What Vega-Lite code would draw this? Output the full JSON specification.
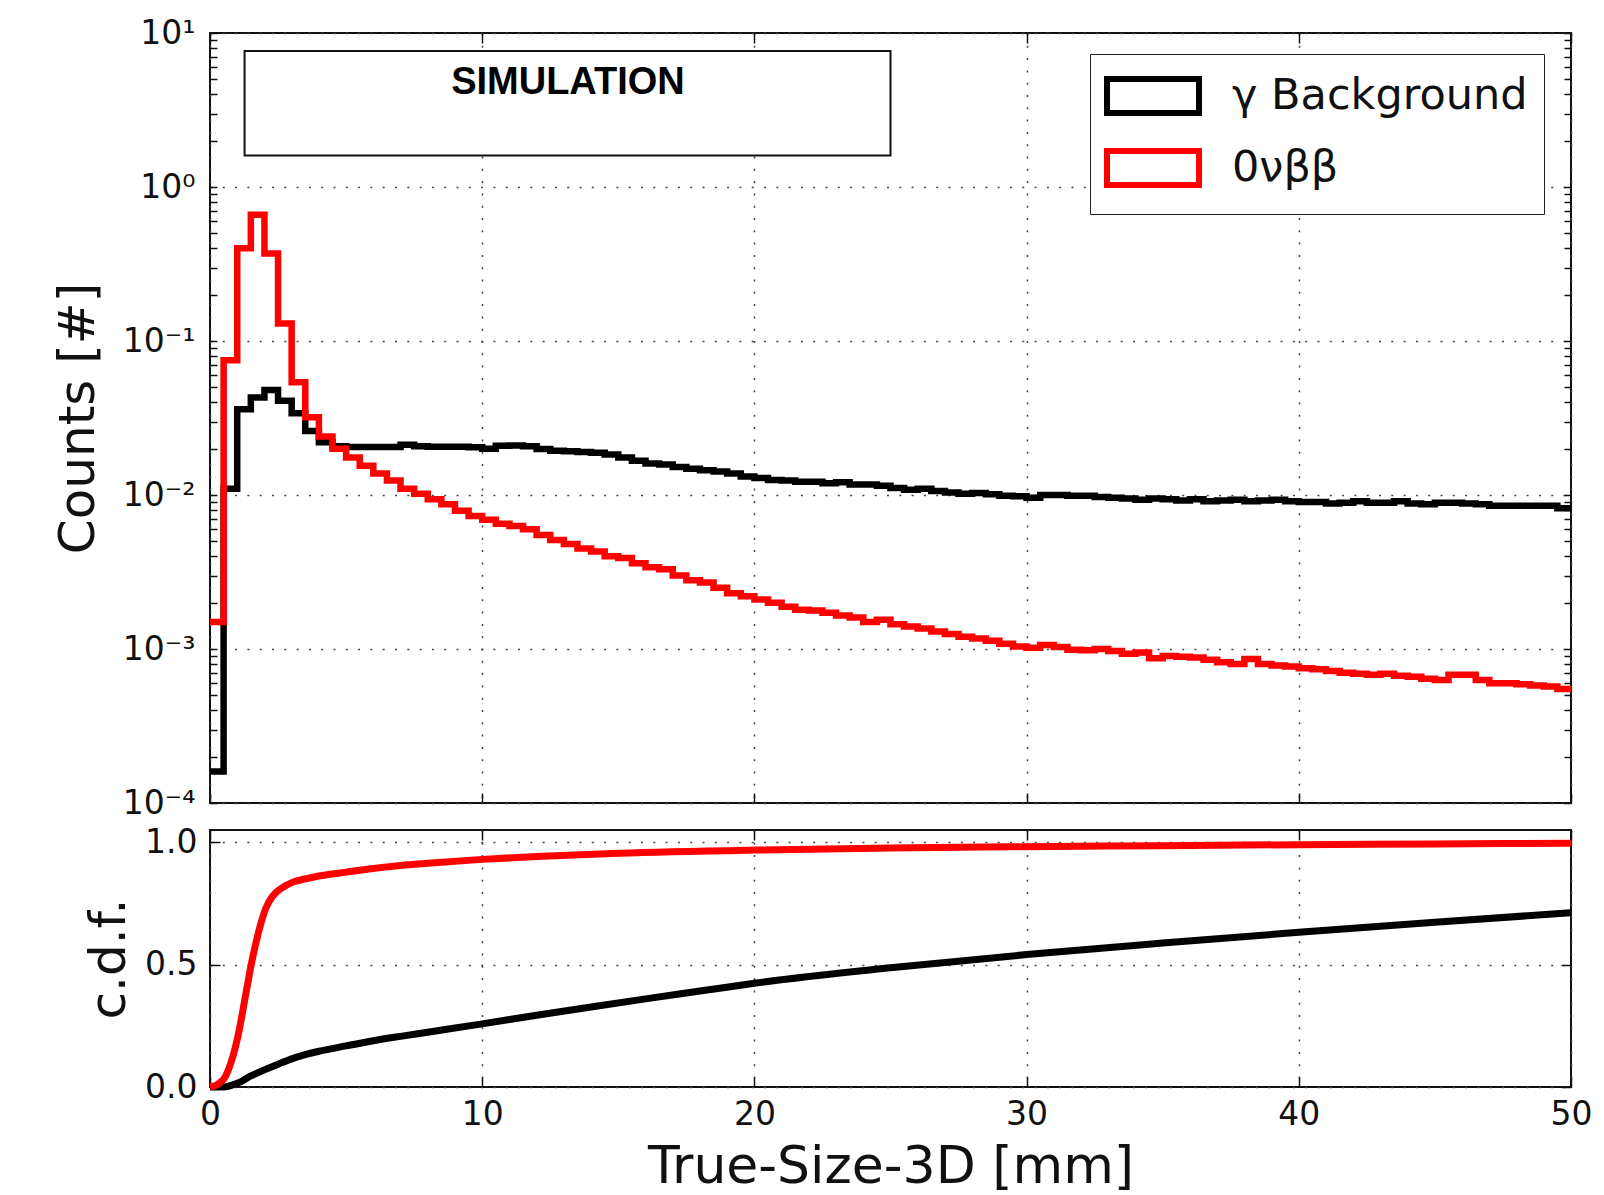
{
  "$schema": "https://vega.github.io/schema/vega-lite/v6.json",
  "background": "white",
  "padding": {"left": 52, "top": 16, "right": 12, "bottom": 0},
  "bounds": "flush",
  "spacing": 27,
  "config": {
    "font": "DejaVu Sans",
    "view": {"stroke": "#111", "strokeWidth": 2},
    "axis": {
      "domain": false,
      "labelFont": "DejaVu Sans",
      "labelFontSize": 33,
      "labelColor": "#111",
      "labelFlush": false,
      "titleFont": "DejaVu Sans",
      "titleFontSize": 50,
      "titleFontWeight": "normal",
      "titleColor": "#111",
      "gridColor": "#444",
      "gridDash": [2, 10.3],
      "gridWidth": 1.5,
      "tickColor": "#111",
      "tickWidth": 1.5
    }
  },
  "datasets": {
    "hist": [
      {"s":"γ Background","x":0,"c":0.00016},{"s":"γ Background","x":0.5,"c":0.011},{"s":"γ Background","x":1,"c":0.036},{"s":"γ Background","x":1.5,"c":0.043},{"s":"γ Background","x":2,"c":0.048},
      {"s":"γ Background","x":2.5,"c":0.041},{"s":"γ Background","x":3,"c":0.034},{"s":"γ Background","x":3.5,"c":0.026},{"s":"γ Background","x":4,"c":0.022},{"s":"γ Background","x":4.5,"c":0.0207},
      {"s":"γ Background","x":5,"c":0.0205},{"s":"γ Background","x":5.5,"c":0.0205},{"s":"γ Background","x":6,"c":0.0205},{"s":"γ Background","x":6.5,"c":0.0205},{"s":"γ Background","x":7,"c":0.0212},
      {"s":"γ Background","x":7.5,"c":0.0207},{"s":"γ Background","x":8,"c":0.0206},{"s":"γ Background","x":8.5,"c":0.0206},{"s":"γ Background","x":9,"c":0.0206},{"s":"γ Background","x":9.5,"c":0.0204},
      {"s":"γ Background","x":10,"c":0.0200},{"s":"γ Background","x":10.5,"c":0.0209},{"s":"γ Background","x":11,"c":0.0210},{"s":"γ Background","x":11.5,"c":0.0207},{"s":"γ Background","x":12,"c":0.0199},
      {"s":"γ Background","x":12.5,"c":0.0194},{"s":"γ Background","x":13,"c":0.0192},{"s":"γ Background","x":13.5,"c":0.0190},{"s":"γ Background","x":14,"c":0.0188},{"s":"γ Background","x":14.5,"c":0.0183},
      {"s":"γ Background","x":15,"c":0.0175},{"s":"γ Background","x":15.5,"c":0.0167},{"s":"γ Background","x":16,"c":0.0160},{"s":"γ Background","x":16.5,"c":0.0158},{"s":"γ Background","x":17,"c":0.0152},
      {"s":"γ Background","x":17.5,"c":0.0148},{"s":"γ Background","x":18,"c":0.0145},{"s":"γ Background","x":18.5,"c":0.0142},{"s":"γ Background","x":19,"c":0.0138},{"s":"γ Background","x":19.5,"c":0.0132},
      {"s":"γ Background","x":20,"c":0.0129},{"s":"γ Background","x":20.5,"c":0.0125},{"s":"γ Background","x":21,"c":0.0124},{"s":"γ Background","x":21.5,"c":0.0122},{"s":"γ Background","x":22,"c":0.0122},
      {"s":"γ Background","x":22.5,"c":0.0119},{"s":"γ Background","x":23,"c":0.0121},{"s":"γ Background","x":23.5,"c":0.0117},{"s":"γ Background","x":24,"c":0.0117},{"s":"γ Background","x":24.5,"c":0.0115},
      {"s":"γ Background","x":25,"c":0.0111},{"s":"γ Background","x":25.5,"c":0.0108},{"s":"γ Background","x":26,"c":0.0110},{"s":"γ Background","x":26.5,"c":0.0106},{"s":"γ Background","x":27,"c":0.0104},
      {"s":"γ Background","x":27.5,"c":0.0102},{"s":"γ Background","x":28,"c":0.0103},{"s":"γ Background","x":28.5,"c":0.0101},{"s":"γ Background","x":29,"c":0.0099},{"s":"γ Background","x":29.5,"c":0.0098},
      {"s":"γ Background","x":30,"c":0.0096},{"s":"γ Background","x":30.5,"c":0.0100},{"s":"γ Background","x":31,"c":0.0100},{"s":"γ Background","x":31.5,"c":0.0099},{"s":"γ Background","x":32,"c":0.0099},
      {"s":"γ Background","x":32.5,"c":0.0097},{"s":"γ Background","x":33,"c":0.0096},{"s":"γ Background","x":33.5,"c":0.0095},{"s":"γ Background","x":34,"c":0.0093},{"s":"γ Background","x":34.5,"c":0.0095},
      {"s":"γ Background","x":35,"c":0.0094},{"s":"γ Background","x":35.5,"c":0.0092},{"s":"γ Background","x":36,"c":0.0094},{"s":"γ Background","x":36.5,"c":0.0091},{"s":"γ Background","x":37,"c":0.0092},
      {"s":"γ Background","x":37.5,"c":0.0093},{"s":"γ Background","x":38,"c":0.0091},{"s":"γ Background","x":38.5,"c":0.0092},{"s":"γ Background","x":39,"c":0.0093},{"s":"γ Background","x":39.5,"c":0.0091},
      {"s":"γ Background","x":40,"c":0.0090},{"s":"γ Background","x":40.5,"c":0.0090},{"s":"γ Background","x":41,"c":0.0088},{"s":"γ Background","x":41.5,"c":0.0089},{"s":"γ Background","x":42,"c":0.0091},
      {"s":"γ Background","x":42.5,"c":0.0089},{"s":"γ Background","x":43,"c":0.0089},{"s":"γ Background","x":43.5,"c":0.0091},{"s":"γ Background","x":44,"c":0.0088},{"s":"γ Background","x":44.5,"c":0.0087},
      {"s":"γ Background","x":45,"c":0.0089},{"s":"γ Background","x":45.5,"c":0.0089},{"s":"γ Background","x":46,"c":0.0088},{"s":"γ Background","x":46.5,"c":0.0087},{"s":"γ Background","x":47,"c":0.0085},
      {"s":"γ Background","x":47.5,"c":0.0085},{"s":"γ Background","x":48,"c":0.0085},{"s":"γ Background","x":48.5,"c":0.0085},{"s":"γ Background","x":49,"c":0.0085},{"s":"γ Background","x":49.5,"c":0.0082},
      {"s":"γ Background","x":50,"c":0.0082},
      {"s":"0νββ","x":0,"c":0.0015},{"s":"0νββ","x":0.5,"c":0.075},{"s":"0νββ","x":1,"c":0.40},{"s":"0νββ","x":1.5,"c":0.66},{"s":"0νββ","x":2,"c":0.37},
      {"s":"0νββ","x":2.5,"c":0.13},{"s":"0νββ","x":3,"c":0.054},{"s":"0νββ","x":3.5,"c":0.032},{"s":"0νββ","x":4,"c":0.024},{"s":"0νββ","x":4.5,"c":0.020},
      {"s":"0νββ","x":5,"c":0.0175},{"s":"0νββ","x":5.5,"c":0.0155},{"s":"0νββ","x":6,"c":0.0138},{"s":"0νββ","x":6.5,"c":0.0124},{"s":"0νββ","x":7,"c":0.0110},
      {"s":"0νββ","x":7.5,"c":0.0102},{"s":"0νββ","x":8,"c":0.0094},{"s":"0νββ","x":8.5,"c":0.0087},{"s":"0νββ","x":9,"c":0.0079},{"s":"0νββ","x":9.5,"c":0.0073},
      {"s":"0νββ","x":10,"c":0.0069},{"s":"0νββ","x":10.5,"c":0.0065},{"s":"0νββ","x":11,"c":0.0063},{"s":"0νββ","x":11.5,"c":0.0060},{"s":"0νββ","x":12,"c":0.0055},
      {"s":"0νββ","x":12.5,"c":0.0051},{"s":"0νββ","x":13,"c":0.0048},{"s":"0νββ","x":13.5,"c":0.0045},{"s":"0νββ","x":14,"c":0.0043},{"s":"0νββ","x":14.5,"c":0.0040},
      {"s":"0νββ","x":15,"c":0.0039},{"s":"0νββ","x":15.5,"c":0.0036},{"s":"0νββ","x":16,"c":0.0034},{"s":"0νββ","x":16.5,"c":0.0033},{"s":"0νββ","x":17,"c":0.0030},
      {"s":"0νββ","x":17.5,"c":0.0028},{"s":"0νββ","x":18,"c":0.0027},{"s":"0νββ","x":18.5,"c":0.0025},{"s":"0νββ","x":19,"c":0.0023},{"s":"0νββ","x":19.5,"c":0.0022},
      {"s":"0νββ","x":20,"c":0.0021},{"s":"0νββ","x":20.5,"c":0.0020},{"s":"0νββ","x":21,"c":0.00188},{"s":"0νββ","x":21.5,"c":0.00180},{"s":"0νββ","x":22,"c":0.00178},
      {"s":"0νββ","x":22.5,"c":0.00172},{"s":"0νββ","x":23,"c":0.00165},{"s":"0νββ","x":23.5,"c":0.00160},{"s":"0νββ","x":24,"c":0.00150},{"s":"0νββ","x":24.5,"c":0.00155},
      {"s":"0νββ","x":25,"c":0.00145},{"s":"0νββ","x":25.5,"c":0.00140},{"s":"0νββ","x":26,"c":0.00136},{"s":"0νββ","x":26.5,"c":0.00130},{"s":"0νββ","x":27,"c":0.00125},
      {"s":"0νββ","x":27.5,"c":0.00120},{"s":"0νββ","x":28,"c":0.00117},{"s":"0νββ","x":28.5,"c":0.00113},{"s":"0νββ","x":29,"c":0.00108},{"s":"0νββ","x":29.5,"c":0.00104},
      {"s":"0νββ","x":30,"c":0.00102},{"s":"0νββ","x":30.5,"c":0.00106},{"s":"0νββ","x":31,"c":0.00103},{"s":"0νββ","x":31.5,"c":0.00099},{"s":"0νββ","x":32,"c":0.00098},
      {"s":"0νββ","x":32.5,"c":0.00100},{"s":"0νββ","x":33,"c":0.00097},{"s":"0νββ","x":33.5,"c":0.00093},{"s":"0νββ","x":34,"c":0.00095},{"s":"0νββ","x":34.5,"c":0.00087},
      {"s":"0νββ","x":35,"c":0.00090},{"s":"0νββ","x":35.5,"c":0.00089},{"s":"0νββ","x":36,"c":0.00088},{"s":"0νββ","x":36.5,"c":0.00085},{"s":"0νββ","x":37,"c":0.00082},
      {"s":"0νββ","x":37.5,"c":0.00080},{"s":"0νββ","x":38,"c":0.00086},{"s":"0νββ","x":38.5,"c":0.00080},{"s":"0νββ","x":39,"c":0.00078},{"s":"0νββ","x":39.5,"c":0.00077},
      {"s":"0νββ","x":40,"c":0.00075},{"s":"0νββ","x":40.5,"c":0.00074},{"s":"0νββ","x":41,"c":0.00072},{"s":"0νββ","x":41.5,"c":0.00070},{"s":"0νββ","x":42,"c":0.00069},
      {"s":"0νββ","x":42.5,"c":0.00068},{"s":"0νββ","x":43,"c":0.00069},{"s":"0νββ","x":43.5,"c":0.00067},{"s":"0νββ","x":44,"c":0.00066},{"s":"0νββ","x":44.5,"c":0.00064},
      {"s":"0νββ","x":45,"c":0.00063},{"s":"0νββ","x":45.5,"c":0.00068},{"s":"0νββ","x":46,"c":0.00068},{"s":"0νββ","x":46.5,"c":0.00063},{"s":"0νββ","x":47,"c":0.00060},
      {"s":"0νββ","x":47.5,"c":0.00060},{"s":"0νββ","x":48,"c":0.00059},{"s":"0νββ","x":48.5,"c":0.00058},{"s":"0νββ","x":49,"c":0.00057},{"s":"0νββ","x":49.5,"c":0.00055},
      {"s":"0νββ","x":50,"c":0.00055}
    ],
    "cdf": [
      {"s":"γ Background","x":0,"f":0},{"s":"γ Background","x":0.5,"f":0},{"s":"γ Background","x":1,"f":0.015},{"s":"γ Background","x":1.5,"f":0.045},{"s":"γ Background","x":2,"f":0.07},
      {"s":"γ Background","x":2.5,"f":0.093},{"s":"γ Background","x":3,"f":0.115},{"s":"γ Background","x":3.5,"f":0.132},{"s":"γ Background","x":4,"f":0.146},{"s":"γ Background","x":5,"f":0.168},
      {"s":"γ Background","x":6,"f":0.189},{"s":"γ Background","x":7,"f":0.207},{"s":"γ Background","x":8,"f":0.224},{"s":"γ Background","x":10,"f":0.258},{"s":"γ Background","x":12,"f":0.293},
      {"s":"γ Background","x":14,"f":0.327},{"s":"γ Background","x":16,"f":0.36},{"s":"γ Background","x":18,"f":0.392},{"s":"γ Background","x":20,"f":0.424},{"s":"γ Background","x":25,"f":0.487},
      {"s":"γ Background","x":30,"f":0.541},{"s":"γ Background","x":35,"f":0.588},{"s":"γ Background","x":40,"f":0.632},{"s":"γ Background","x":45,"f":0.673},{"s":"γ Background","x":50,"f":0.712},
      {"s":"0νββ","x":0,"f":0},{"s":"0νββ","x":0.3,"f":0.012},{"s":"0νββ","x":0.55,"f":0.04},{"s":"0νββ","x":0.8,"f":0.11},{"s":"0νββ","x":1.05,"f":0.22},
      {"s":"0νββ","x":1.3,"f":0.37},{"s":"0νββ","x":1.55,"f":0.52},{"s":"0νββ","x":1.8,"f":0.64},{"s":"0νββ","x":2.05,"f":0.73},{"s":"0νββ","x":2.3,"f":0.78},
      {"s":"0νββ","x":2.6,"f":0.81},{"s":"0νββ","x":3,"f":0.835},{"s":"0νββ","x":3.5,"f":0.85},{"s":"0νββ","x":4,"f":0.862},{"s":"0νββ","x":5,"f":0.878},
      {"s":"0νββ","x":6,"f":0.893},{"s":"0νββ","x":7,"f":0.905},{"s":"0νββ","x":8,"f":0.914},{"s":"0νββ","x":10,"f":0.93},{"s":"0νββ","x":12,"f":0.942},
      {"s":"0νββ","x":15,"f":0.955},{"s":"0νββ","x":20,"f":0.968},{"s":"0νββ","x":25,"f":0.976},{"s":"0νββ","x":30,"f":0.982},{"s":"0νββ","x":35,"f":0.986},
      {"s":"0νββ","x":40,"f":0.99},{"s":"0νββ","x":45,"f":0.993},{"s":"0νββ","x":50,"f":0.996}
    ]
  },
  "vconcat": [
    {
      "width": 1361,
      "height": 770,
      "resolve": {"axis": {"x": "independent", "y": "independent"}},
      "layer": [
        {
          "data": {"values": [{}]},
          "mark": {"type": "rect", "fill": "white", "stroke": "#111", "strokeWidth": 2},
          "encoding": {
            "x": {"datum": 1.27, "type": "quantitative", "scale": {"domain": [0, 50], "nice": false}, "axis": null},
            "x2": {"datum": 25.0},
            "y": {"datum": 7.65, "type": "quantitative", "scale": {"type": "log", "domain": [0.0001, 10], "nice": false}, "axis": null},
            "y2": {"datum": 1.6}
          }
        },
        {
          "data": {"values": [{}]},
          "mark": {"type": "text", "text": "SIMULATION", "font": "Liberation Sans", "fontWeight": "bold", "fontSize": 38, "align": "center", "baseline": "middle", "color": "#000"},
          "encoding": {
            "x": {"datum": 13.15, "type": "quantitative", "axis": null},
            "y": {"datum": 4.75, "type": "quantitative", "axis": null}
          }
        },
        {
          "data": {"name": "hist"},
          "mark": {"type": "line", "interpolate": "step-after", "strokeWidth": 6.5, "strokeJoin": "miter"},
          "encoding": {
            "x": {"field": "x", "type": "quantitative",
                  "axis": {"orient": "bottom", "values": [0, 10, 20, 30, 40, 50], "labels": false, "title": null, "grid": true, "tickSize": -10}},
            "y": {"field": "c", "type": "quantitative",
                  "axis": {"orient": "left", "title": "Counts [#]", "titlePadding": 19, "grid": true, "tickSize": -7, "labelPadding": 22,
                           "values": [0.0001,0.0002,0.0003,0.0004,0.0005,0.0006,0.0007,0.0008,0.0009,0.001,0.002,0.003,0.004,0.005,0.006,0.007,0.008,0.009,0.01,0.02,0.03,0.04,0.05,0.06,0.07,0.08,0.09,0.1,0.2,0.3,0.4,0.5,0.6,0.7,0.8,0.9,1,2,3,4,5,6,7,8,9,10],
                           "labelExpr": "datum.value == 10 ? '10¹' : datum.value == 1 ? '10⁰' : datum.value == 0.1 ? '10⁻¹' : datum.value == 0.01 ? '10⁻²' : datum.value == 0.001 ? '10⁻³' : datum.value == 0.0001 ? '10⁻⁴' : ''",
                           "gridOpacity": {"condition": {"test": "indexof([10, 1, 0.1, 0.01, 0.001, 0.0001], datum.value) >= 0", "value": 1}, "value": 0}}},
            "color": {"field": "s", "type": "nominal", "sort": ["γ Background", "0νββ"],
                      "scale": {"domain": ["γ Background", "0νββ"], "range": ["#000000", "#ff0000"]},
                      "legend": {"orient": "none", "legendX": 880, "legendY": 21, "title": null,
                                 "fillColor": "white", "strokeColor": "#222", "padding": 16,
                                 "symbolType": "M-2,-0.74L2,-0.74L2,0.74L-2,0.74Z", "symbolSize": 2116,
                                 "symbolOffset": 21,
                                 "symbolStrokeWidth": 6, "symbolFillColor": "white",
                                 "labelFont": "DejaVu Sans", "labelFontSize": 43, "labelColor": "#111", "labelLimit": 0,
                                 "labelOffset": 53, "rowPadding": 12}}
          }
        },
        {
          "data": {"name": "hist"},
          "mark": {"type": "point", "opacity": 0},
          "encoding": {
            "x": {"field": "x", "type": "quantitative",
                  "axis": {"orient": "top", "values": [0, 10, 20, 30, 40, 50], "labels": false, "title": null, "grid": false, "tickSize": -10}},
            "y": {"field": "c", "type": "quantitative",
                  "axis": {"orient": "right", "labels": false, "title": null, "grid": false, "tickSize": -7,
                           "values": [0.0001,0.0002,0.0003,0.0004,0.0005,0.0006,0.0007,0.0008,0.0009,0.001,0.002,0.003,0.004,0.005,0.006,0.007,0.008,0.009,0.01,0.02,0.03,0.04,0.05,0.06,0.07,0.08,0.09,0.1,0.2,0.3,0.4,0.5,0.6,0.7,0.8,0.9,1,2,3,4,5,6,7,8,9,10]}}
          }
        }
      ]
    },
    {
      "width": 1361,
      "height": 257,
      "resolve": {"axis": {"x": "independent", "y": "independent"}},
      "layer": [
        {
          "data": {"name": "cdf"},
          "mark": {"type": "line", "interpolate": "monotone", "strokeWidth": 7},
          "encoding": {
            "x": {"field": "x", "type": "quantitative", "scale": {"domain": [0, 50], "nice": false},
                  "axis": {"orient": "bottom", "values": [0, 10, 20, 30, 40, 50], "title": "True-Size-3D [mm]", "titleFontSize": 52, "grid": true, "tickSize": -10, "labelPadding": 21, "titlePadding": 10}},
            "y": {"field": "f", "type": "quantitative", "scale": {"domain": [0, 1.05], "nice": false},
                  "axis": {"orient": "left", "values": [0, 0.5, 1.0], "format": ".1f", "title": "c.d.f.", "grid": true, "tickSize": -10, "labelPadding": 23, "titlePadding": 10}},
            "color": {"field": "s", "type": "nominal", "sort": ["γ Background", "0νββ"],
                      "scale": {"domain": ["γ Background", "0νββ"], "range": ["#000000", "#ff0000"]}, "legend": null}
          }
        },
        {
          "data": {"name": "cdf"},
          "mark": {"type": "point", "opacity": 0},
          "encoding": {
            "x": {"field": "x", "type": "quantitative",
                  "axis": {"orient": "top", "values": [0, 10, 20, 30, 40, 50], "labels": false, "title": null, "grid": false, "tickSize": -10}},
            "y": {"field": "f", "type": "quantitative",
                  "axis": {"orient": "right", "values": [0, 0.5, 1.0], "labels": false, "title": null, "grid": false, "tickSize": -10}}
          }
        }
      ]
    }
  ]
}
